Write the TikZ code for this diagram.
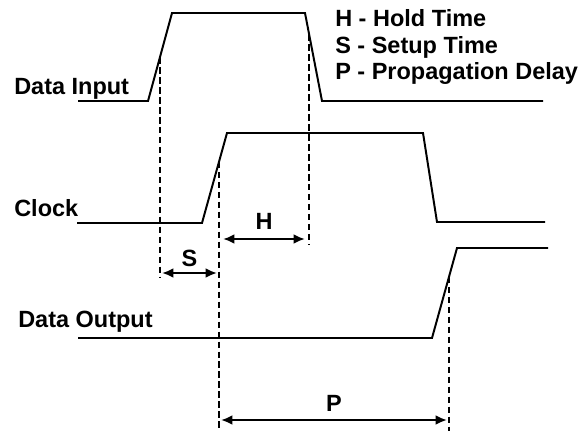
\documentclass[tikz,border=0pt]{standalone}
\usepackage{fontspec}
\setmainfont{Liberation Sans}
\usetikzlibrary{arrows.meta}

\begin{document}
\begin{tikzpicture}[
    x=0.025cm, y=-0.025cm,
    >={Latex[length=8pt,width=7pt]},
    font=\fontsize{16.7}{19}\selectfont\bfseries,
    signal/.style={line width=1.4pt},
    hilfslinie/.style={line width=1.3pt, dash pattern=on 4.7pt off 2.4pt},
    bemassung/.style={<->, line width=1.4pt, shorten <=1.5pt, shorten >=1.5pt},
    beschriftung/.style={anchor=base west, inner sep=0pt}
]

% Rahmen
\useasboundingbox (0,0) rectangle (584,433);

% Namen der Signale
\node[beschriftung] (din) at (14,94) {Data Input};
\node[beschriftung] (clk) at (14,216) {Clock};
\node[beschriftung] (dout) at (18,327) {Data Output};

% Legende
\node[beschriftung] (legH) at (335,27) {H - Hold Time};
\node[beschriftung] (legS) at (335,54) {S - Setup Time};
\node[beschriftung] (legP) at (335,80) {P - Propagation Delay};

% Signalverlaeufe
\draw[signal] (78,101) -- (148,101) -- coordinate[pos=0.5] (dinAuf) (172,13)
    -- (305,13) -- coordinate[pos=0.24] (dinAb) (322,101) -- (543,101);
\draw[signal] (77,223) -- (202,223) -- coordinate[pos=0.68] (clkAuf) (227,133)
    -- (423,133) -- (437,222) -- (545,222);
\draw[signal] (78,338) -- (432,338) -- coordinate[pos=0.68] (doutAuf) (457,248)
    -- (548,248);

% Hilfslinien
\coordinate (unten) at (0,431);
\draw[hilfslinie] (dinAuf) -- (dinAuf |- 0,277);
\draw[hilfslinie] (clkAuf) -- (clkAuf |- unten);
\draw[hilfslinie] (dinAb) -- (dinAb |- 0,244);
\draw[hilfslinie] (doutAuf) -- (doutAuf |- unten);

% Zeiten
\draw[bemassung] (dinAuf |- 0,273) -- node[above, inner sep=3.5pt] {S} (clkAuf |- 0,273);
\draw[bemassung, shorten <=3pt, shorten >=3pt] (clkAuf |- 0,239)
    -- node[above, inner sep=6pt] {H} (dinAb |- 0,239);
\draw[bemassung] (clkAuf |- 0,420) -- node[above, inner sep=5pt] {P} (doutAuf |- 0,420);

\end{tikzpicture}
\end{document}
